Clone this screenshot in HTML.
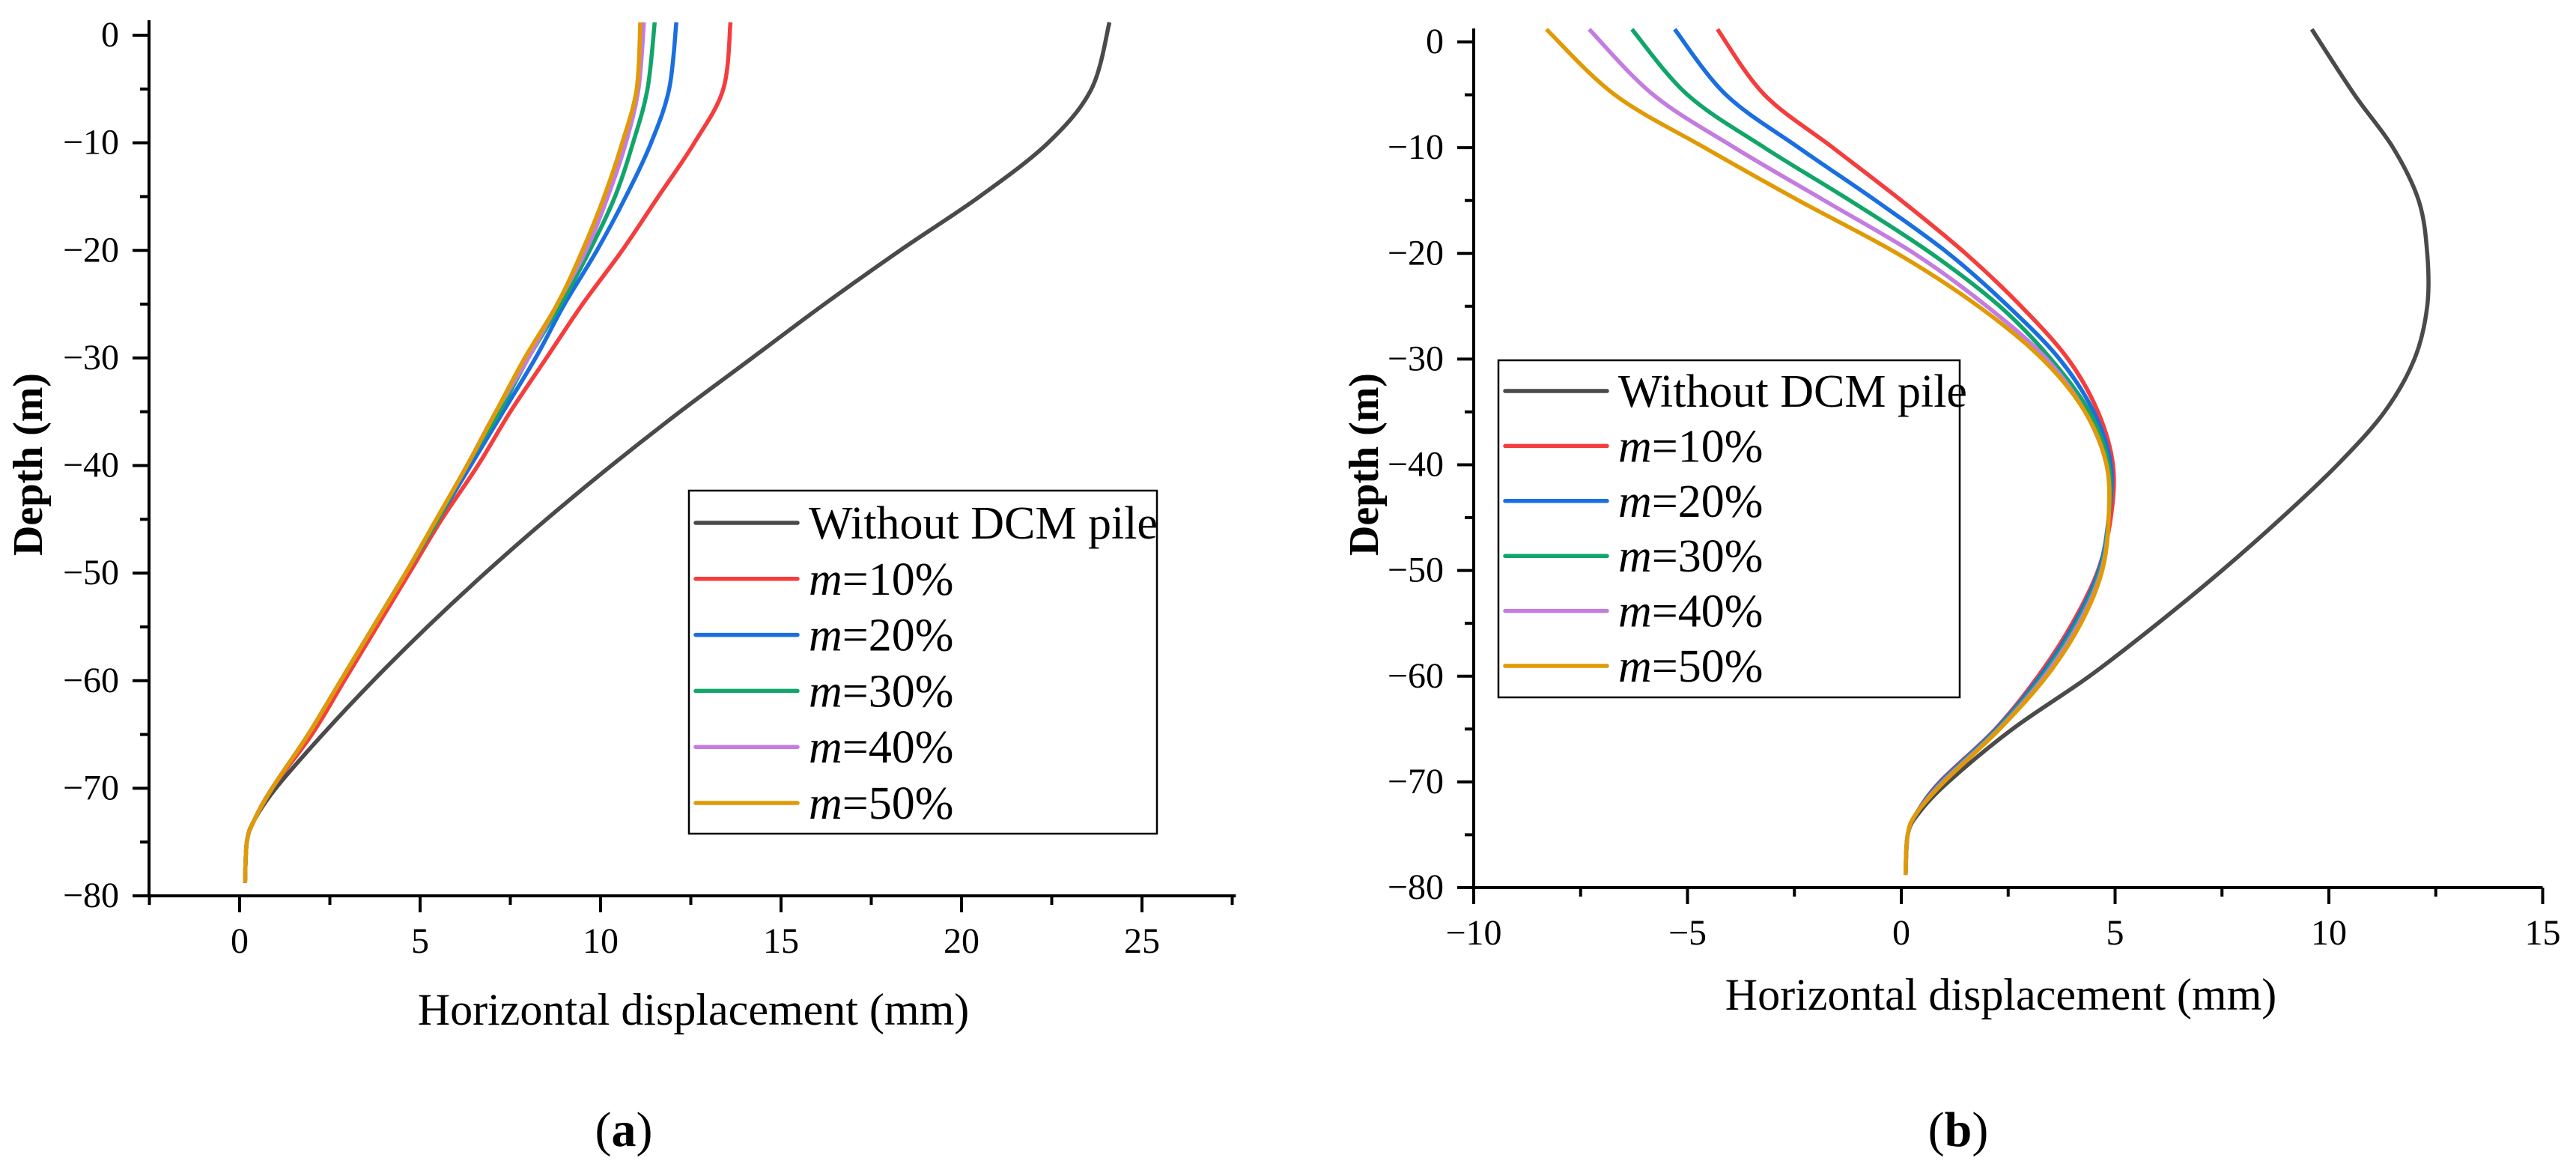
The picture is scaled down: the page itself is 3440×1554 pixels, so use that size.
<!DOCTYPE html>
<html><head><meta charset="utf-8"><style>
html,body{margin:0;padding:0;background:#fff;}
svg{display:block;font-family:"Liberation Serif",serif;}
</style></head><body>
<svg id="fig" width="3440" height="1554" viewBox="0 0 3440 1554" xmlns="http://www.w3.org/2000/svg"></svg>
<script>
const seriesNames=["Without DCM pile","m=10%","m=20%","m=30%","m=40%","m=50%"];
const seriesColors=["#4a4a4a","#f43d3d","#1a6ee0","#11a56a","#c47ce0","#e09a05"];
const depthsA=[1.2,-5,-10,-15,-20,-25,-30,-35,-40,-45,-50,-55,-60,-65,-70,-73,-75,-78.8];
const aWithout=[24.1,23.6,22.4,20.5,18.3,16.2,14.2,12.2,10.3,8.5,6.8,5.2,3.7,2.3,1.0,0.4,0.2,0.15];
const aM10=[13.6,13.4,12.6,11.6,10.6,9.5,8.5,7.5,6.6,5.6,4.7,3.8,2.9,2.0,0.9,0.4,0.2,0.15];
const aM20=[12.1,11.9,11.4,10.7,9.9,9.0,8.2,7.3,6.4,5.5,4.6,3.7,2.8,1.9,0.9,0.4,0.2,0.15];
const aM30=[11.5,11.3,10.9,10.4,9.7,8.9,8.0,7.2,6.3,5.5,4.6,3.7,2.8,1.9,0.9,0.4,0.2,0.15];
const aM40=[11.2,11.05,10.7,10.2,9.6,8.8,8.0,7.1,6.3,5.45,4.6,3.7,2.8,1.9,0.9,0.4,0.2,0.15];
const aM50=[11.1,11.0,10.6,10.1,9.5,8.8,7.9,7.1,6.3,5.45,4.6,3.7,2.8,1.9,0.9,0.4,0.2,0.15];
const depthsB=[1.2,-5,-10,-15,-20,-25,-30,-35,-40,-45,-50,-55,-60,-65,-70,-73,-75,-78.8];
const bWithout=[9.6,10.6,11.5,12.1,12.3,12.3,12.0,11.3,10.2,8.9,7.5,6.0,4.4,2.6,1.1,0.4,0.15,0.1];
const bM10=[-4.3,-3.2,-1.6,0.0,1.5,2.8,3.9,4.6,4.95,4.9,4.6,4.0,3.2,2.2,0.9,0.35,0.15,0.1];
const bM20=[-5.3,-4.1,-2.4,-0.6,1.1,2.5,3.7,4.5,4.9,4.85,4.62,4.05,3.25,2.22,0.92,0.35,0.15,0.1];
const bM30=[-6.3,-5.0,-3.2,-1.2,0.7,2.3,3.5,4.4,4.85,4.85,4.65,4.1,3.3,2.25,0.95,0.35,0.15,0.1];
const bM40=[-7.3,-5.8,-3.9,-1.8,0.3,2.0,3.4,4.3,4.8,4.85,4.68,4.15,3.35,2.28,0.97,0.35,0.15,0.1];
const bM50=[-8.3,-6.7,-4.6,-2.4,-0.1,1.8,3.3,4.3,4.8,4.85,4.7,4.2,3.4,2.3,1.0,0.35,0.15,0.1];
const xTicksA=[0,5,10,15,20,25];
const xTicksB=[-10,-5,0,5,10,15];
const yTicks=[0,-10,-20,-30,-40,-50,-60,-70,-80];

const NS="http://www.w3.org/2000/svg";
const svg=document.getElementById('fig');
function el(tag,attrs,parent){const e=document.createElementNS(NS,tag);for(const k in attrs)e.setAttribute(k,attrs[k]);(parent||svg).appendChild(e);return e;}
function smooth(pts){let d=`M${pts[0][0]},${pts[0][1]}`;for(let i=0;i<pts.length-1;i++){const p0=pts[Math.max(0,i-1)],p1=pts[i],p2=pts[i+1],p3=pts[Math.min(pts.length-1,i+2)];const c1=[p1[0]+(p2[0]-p0[0])/6,p1[1]+(p2[1]-p0[1])/6],c2=[p2[0]-(p3[0]-p1[0])/6,p2[1]-(p3[1]-p1[1])/6];d+=` C${c1[0]},${c1[1]} ${c2[0]},${c2[1]} ${p2[0]},${p2[1]}`;}return d;}

function panel(cfg){
  const g=el('g',{});
  
  
  const X=v=>cfg.xz+v*cfg.xu;
  const Y=v=>cfg.y0+(0-v)/80*(cfg.y80-cfg.y0);
  cfg.series.forEach((s,i)=>{
    const pts=cfg.depths.map((d,j)=>[X(s[j]),Y(d)]);
    const p=el('path',{d:smooth(pts),fill:'none',stroke:seriesColors[i],'stroke-width':5.5,'stroke-linejoin':'round'},g);
    
    
  });
  const x0=X(cfg.xmin),x1=X(cfg.xmax);
  const ax=el('path',{d:`M${x0},${cfg.ytop} L${x0},${cfg.y80} L${x1},${cfg.y80}`,fill:'none',stroke:'#000','stroke-width':4},g);
  
  for(let v=Math.ceil(cfg.xmin/2.5-1e-6)*2.5;v<=cfg.xmax+1e-6;v+=2.5){
    const major=Math.abs(v%5)<1e-6;
    el('line',{x1:X(v),x2:X(v),y1:cfg.y80,y2:cfg.y80+(major?22:12),stroke:'#000','stroke-width':4},g);
  }
  cfg.xticks.forEach(v=>{const t=el('text',{x:X(v),y:cfg.y80+76,'font-size':48,'text-anchor':'middle'},g);t.textContent=(v<0?'\u2212':'')+Math.abs(v);
    });
  for(let v=0;v>=-80;v-=5){const major=v%10===0;el('line',{x1:x0,x2:x0-(major?22:12),y1:Y(v),y2:Y(v),stroke:'#000','stroke-width':4},g);}
  yTicks.forEach(v=>{const t=el('text',{x:x0-40,y:Y(v)+15,'font-size':48,'text-anchor':'end'},g);t.textContent=(v<0?'\u2212':'')+Math.abs(v);
    });
  const xt=el('text',{x:cfg.xtx,y:cfg.xty,'font-size':60,'text-anchor':'middle'},g);xt.textContent='Horizontal displacement (mm)';
  
  const yt=el('text',{x:0,y:0,'font-size':56,'font-weight':'bold','text-anchor':'middle',transform:`translate(${cfg.ytx},620) rotate(-90)`},g);yt.textContent='Depth (m)';
  
  const lab=el('text',{x:cfg.labx,y:1530,'font-size':66,'text-anchor':'middle'},g);
  lab.innerHTML=`(<tspan font-weight="bold">${cfg.label}</tspan>)`;
  
  const lg=el('g',{},g);
  el('rect',{x:cfg.lx0,y:cfg.ly0,width:cfg.lx1-cfg.lx0,height:cfg.ly1-cfg.ly0,fill:'#fff',stroke:'#000','stroke-width':2.5},lg);
  seriesNames.forEach((n,i)=>{
    const ry=cfg.lr0+i*cfg.lstep;
    const e=el('g',{},lg);
    el('line',{x1:cfg.lx0+9,x2:cfg.lx0+145,y1:ry,y2:ry,stroke:seriesColors[i],'stroke-width':5.5,'stroke-linecap':'round'},e);
    const t=el('text',{x:cfg.lx0+160,y:ry+21,'font-size':62},e);
    if(i===0)t.textContent=n;else t.innerHTML=`<tspan font-style="italic">m</tspan>${n.slice(1)}`;
  });
}
panel({name:'panel-a',label:'a',xz:320,xu:48.2,xmin:-2.51,xmax:27.6,ytop:27,y0:47,y80:1196,xticks:xTicksA,depths:depthsA,
  series:[aWithout,aM10,aM20,aM30,aM40,aM50],xtx:926,xty:1368,ytx:56,labx:833,lx0:920,lx1:1545,ly0:655,ly1:1113,lr0:698,lstep:74.8});
panel({name:'panel-b',label:'b',xz:2539,xu:57.1,xmin:-10,xmax:15,ytop:38,y0:56,y80:1185,xticks:xTicksB,depths:depthsB,
  series:[bWithout,bM10,bM20,bM30,bM40,bM50],xtx:2672,xty:1348,ytx:1840,labx:2615,lx0:2001,lx1:2617,ly0:481,ly1:931,lr0:522,lstep:73.4});
</script>
</body></html>
